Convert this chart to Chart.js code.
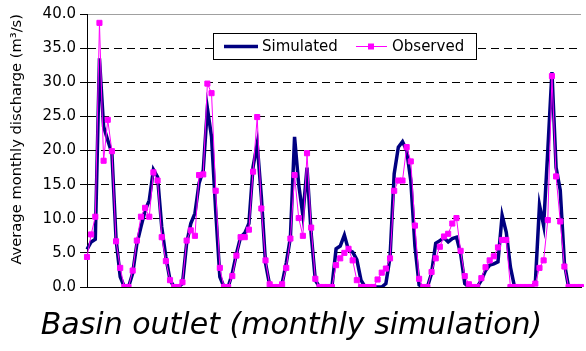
<!DOCTYPE html>
<html>
<head>
<meta charset="utf-8">
<script src="https://cdn.jsdelivr.net/npm/chart.js@4.4.1/dist/chart.umd.min.js"></script>
<style>
  html, body { margin: 0; padding: 0; background: #fff; }
  #wrap { width: 586px; height: 351px; position: relative; }
</style>
</head>
<body>
<div id="wrap"><canvas id="flowChart"></canvas></div>
<script>
    // monthly index (10 years of monthly simulation)
    const months = Array.from({ length: 120 }, (_, i) => i + 1);

    const simulated = [
        5.5, 6.6, 7.0, 33.5, 23.5, 21.5, 19.6, 7.0, 1.5, 0, 0, 2.0,
        6.3, 8.8, 11.2, 12.7, 17.2, 16.1, 8.8, 4.4, 1.0, 0, 0, 0.5,
        6.4, 9.3, 10.8, 15.2, 17.1, 26.2, 22.0, 11.2, 1.5, 0, 0, 2.0,
        4.9, 7.3, 7.9, 9.3, 17.6, 21.0, 13.2, 3.5, 0.3, 0, 0, 0.5,
        3.5, 7.3, 22.0, 15.0, 10.5, 17.5, 7.8, 1.0, 0, 0, 0, 0,
        5.6, 6.0, 7.6, 5.4, 5.1, 4.0, 1.0, 0, 0, 0, 0, 0,
        0.5, 4.4, 16.6, 20.5, 21.3, 20.0, 15.6, 6.0, 0.3, 0, 0, 2.0,
        6.4, 6.8, 7.2, 6.6, 7.1, 7.3, 4.9, 0.5, 0, 0, 0, 1.0,
        2.4, 3.2, 3.4, 3.7, 10.5, 8.0, 2.9, 0, 0, 0, 0, 0,
        0.6, 12.0, 9.0, 20.0, 31.5, 17.5, 14.2, 3.5, 0, 0, 0, 0
    ];

    const observed = [
        4.4, 7.7, 10.3, 38.7, 18.5, 24.5, 19.9, 6.7, 2.8, 0, 0, 2.4,
        6.8, 10.3, 11.6, 10.3, 16.8, 15.6, 7.3, 3.8, 1.0, 0, 0, 0.7,
        6.8, 8.3, 7.5, 16.4, 16.5, 29.8, 28.4, 14.1, 2.8, 0, 0, 1.6,
        4.6, 7.3, 7.3, 8.4, 16.9, 24.9, 11.5, 3.9, 0.4, 0, 0, 0.4,
        2.8, 7.1, 16.4, 10.1, 7.5, 19.6, 8.7, 1.2, 0, 0, 0, 0,
        3.2, 4.2, 5.0, 5.6, 3.9, 1.0, 0, 0, 0, 0, 1.1, 2.1,
        2.7, 4.2, 14.1, 15.6, 15.6, 20.5, 18.4, 9.0, 1.2, 0, 0, 2.2,
        4.2, 5.9, 7.4, 7.8, 9.3, 10.1, 5.3, 1.6, 0.4, 0, 0, 1.3,
        2.9, 3.9, 4.5, 5.8, 6.9, 6.9, 0, 0, 0, 0, 0, 0,
        0.5, 2.8, 3.9, 9.8, 30.9, 16.2, 9.6, 3.0, 0, 0, 0, 0
    ];

    const yTicks = [0, 5, 10, 15, 20, 25, 30, 35, 40];

    const FONT = 'DejaVu Sans';

    // legend box sitting inside the plot, like the spreadsheet original
    const boxLegend = {
        id: 'boxLegend',
        afterDraw(chart) {
            const ctx = chart.ctx;
            const x0 = 213.5, y0 = 33.5, w = 263, h = 26;
            const cy = y0 + h / 2;
            ctx.save();
            ctx.fillStyle = '#fff';
            ctx.fillRect(x0, y0, w, h);
            ctx.strokeStyle = '#000';
            ctx.lineWidth = 1;
            ctx.strokeRect(x0, y0, w, h);

            const sim = chart.data.datasets[1];
            ctx.strokeStyle = sim.borderColor;
            ctx.lineWidth = sim.borderWidth;
            ctx.beginPath(); ctx.moveTo(224, cy); ctx.lineTo(258, cy); ctx.stroke();

            const obs = chart.data.datasets[0];
            ctx.strokeStyle = obs.borderColor;
            ctx.lineWidth = obs.borderWidth;
            ctx.beginPath(); ctx.moveTo(356, cy); ctx.lineTo(387, cy); ctx.stroke();
            ctx.fillStyle = obs.pointBackgroundColor;
            ctx.fillRect(368, cy - 3, 6, 6);

            ctx.fillStyle = '#000';
            ctx.font = '15px "' + FONT + '"';
            ctx.textBaseline = 'middle';
            ctx.fillText(sim.label, 262, cy + 1);
            ctx.fillText(obs.label, 392, cy + 1);
            ctx.restore();
        }
    };

    const ctx = document.getElementById('flowChart').getContext('2d');
    new Chart(ctx, {
        type: 'line',
        data: {
            labels: months,
            datasets: [{
                label: 'Observed',
                data: observed,
                borderColor: '#ff00ff',
                backgroundColor: '#ff00ff',
                pointBackgroundColor: '#ff00ff',
                pointBorderColor: '#ff00ff',
                borderWidth: 1,
                pointStyle: 'rect',
                pointRadius: 3.6,
                pointBorderWidth: 1,
                tension: 0,
                order: 1
            }, {
                label: 'Simulated',
                data: simulated,
                borderColor: '#000080',
                backgroundColor: '#000080',
                borderWidth: 3.5,
                pointRadius: 0,
                tension: 0,
                order: 2
            }]
        },
        options: {
            responsive: true,
            maintainAspectRatio: false,
            animation: false,
            layout: { padding: { top: 14, right: 3, left: 0, bottom: 0 } },
            plugins: {
                legend: { display: false },
                tooltip: { enabled: false },
                title: {
                    display: true,
                    position: 'bottom',
                    text: 'Basin outlet (monthly simulation)',
                    color: '#000',
                    font: { family: FONT, size: 30, style: 'italic', weight: 'normal', lineHeight: 1.2 },
                    padding: { top: 21, bottom: 7 }
                }
            },
            scales: {
                x: {
                    offset: false,
                    grid: { display: false, drawTicks: false },
                    ticks: { display: false },
                    border: { display: true, color: '#000', width: 1 }
                },
                y: {
                    min: 0,
                    max: 40,
                    afterBuildTicks: (scale) => { scale.ticks = yTicks.map(v => ({ value: v })); },
                    afterFit: (scale) => { scale.width = 87; },
                    ticks: {
                        color: '#000',
                        padding: 4,
                        font: { family: FONT, size: 15 },
                        callback: (v) => Number(v).toFixed(1)
                    },
                    grid: {
                        color: (c) => (c.tick && c.tick.value === 40 ? '#a0a0a0' : '#000'),
                        lineWidth: 1,
                        tickLength: 7,
                        tickColor: '#000',
                        tickBorderDash: []
                    },
                    border: {
                        display: true,
                        color: '#000',
                        width: 1,
                        dash: (c) => (c.type === 'tick' && c.tick.value > 0 && c.tick.value < 40 ? [8, 5] : [])
                    },
                    title: {
                        display: true,
                        align: 'end',
                        text: 'Average monthly discharge (m³/s)',
                        color: '#000',
                        font: { family: FONT, size: 14.7 },
                        padding: { top: 8, bottom: 0 }
                    }
                }
            }
        },
        plugins: [boxLegend]
    });
</script>
</body>
</html>
